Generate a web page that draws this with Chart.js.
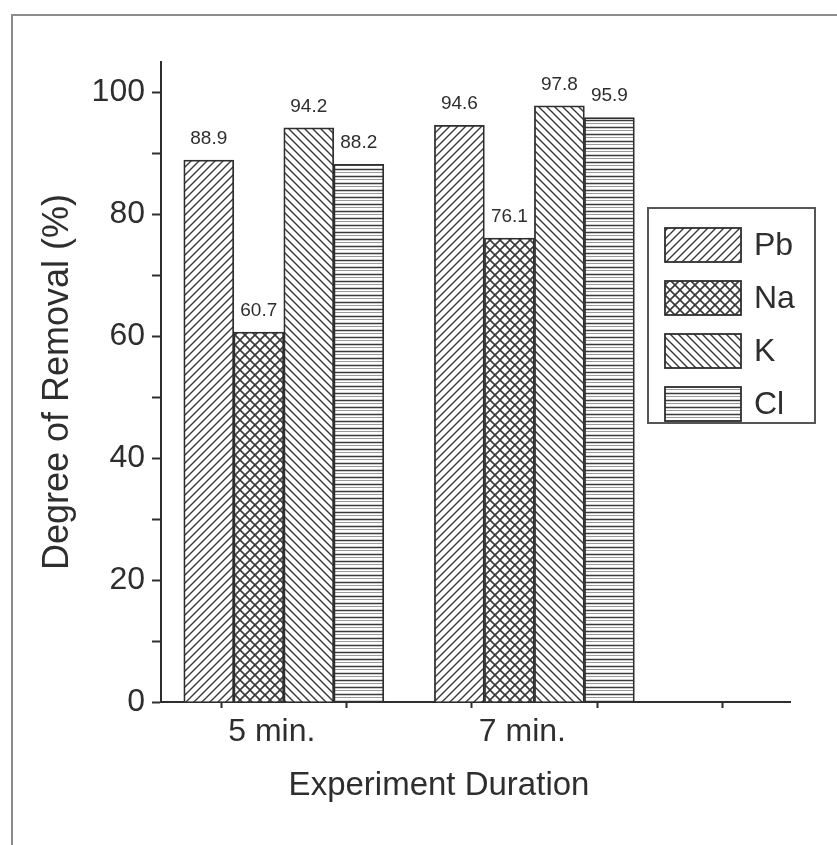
<!DOCTYPE html>
<html>
<head>
<meta charset="utf-8">
<script src="https://cdn.jsdelivr.net/npm/chart.js@4.4.1/dist/chart.umd.min.js"></script>
<style>
  html, body { margin: 0; padding: 0; background: #fff; }
  #wrap { position: relative; width: 837px; height: 845px; overflow: hidden; }
  #frame { position: absolute; left: 11px; top: 14px; width: 900px; height: 900px; border: 2px solid #8c8c8c; box-sizing: border-box; }
  canvas { position: absolute; left: 0; top: 0; }
</style>
</head>
<body>
<div id="wrap">
  <div id="frame"></div>
  <canvas id="removalChart" width="837" height="845"></canvas>
</div>
<script>
// data
const durations = ['5 min.', '7 min.'];
const durationPos = [1, 2];
const elements = ['Pb', 'Na', 'K', 'Cl'];
const pbValues = [88.9, 94.6];
const naValues = [60.7, 76.1];
const kValues = [94.2, 97.8];
const clValues = [88.2, 95.9];
const yTicks = [0, 10, 20, 30, 40, 50, 60, 70, 80, 90, 100];
const xTicks = [0.75, 1, 1.25, 1.75, 2, 2.25, 2.75];
const xTitle = 'Experiment Duration';
const yTitle = 'Degree of Removal (%)';

const FONT = '"Liberation Sans", Arial, sans-serif';
const INK = '#2e2e2e';

// hatch fills, like the origin plot
function makePattern(kind) {
	const s = kind === 'cross' ? 10 : (kind === 'horiz' ? 7 : 8);
	const c = document.createElement('canvas');
	c.width = s; c.height = s;
	const g = c.getContext('2d');
	g.fillStyle = '#fff';
	g.fillRect(0, 0, s, s);
	g.strokeStyle = '#3a3a3a';
	g.lineWidth = 1.4;

	const fwd = () => {
		g.beginPath();
		g.moveTo(-1, s + 1); g.lineTo(s + 1, -1);
		g.moveTo(-1, 1); g.lineTo(1, -1);
		g.moveTo(s - 1, s + 1); g.lineTo(s + 1, s - 1);
		g.stroke();
	};
	const back = () => {
		g.beginPath();
		g.moveTo(-1, -1); g.lineTo(s + 1, s + 1);
		g.moveTo(s - 1, -1); g.lineTo(s + 1, 1);
		g.moveTo(-1, s - 1); g.lineTo(1, s + 1);
		g.stroke();
	};

	if (kind === 'fwd') fwd();
	if (kind === 'back') back();
	if (kind === 'cross') {
		g.lineWidth = 1.6;
		fwd();
		back();
	}
	if (kind === 'horiz') {
		g.lineWidth = 1.5;
		g.beginPath(); g.moveTo(0, 1.5); g.lineTo(s, 1.5); g.stroke();
		g.strokeStyle = '#9a9a9a';
		g.lineWidth = 1;
		g.beginPath(); g.moveTo(0, 4.5); g.lineTo(s, 4.5); g.stroke();
	}
	return g.createPattern(c, 'repeat');
}

const patterns = {
	Pb: makePattern('fwd'),
	Na: makePattern('cross'),
	K: makePattern('back'),
	Cl: makePattern('horiz'),
};
const seriesValues = [pbValues, naValues, kValues, clValues];

const datasets = elements.map((el, i) => ({
	label: el,
	data: durationPos.map((x, j) => ({ x: x, y: seriesValues[i][j] })),
	backgroundColor: patterns[el],
	borderColor: INK,
	borderWidth: 1.8,
	barThickness: 50,
}));

// value above each bar
const valueLabels = {
	id: 'valueLabels',
	afterDatasetsDraw(chart) {
		const ctx = chart.ctx;
		ctx.save();
		ctx.font = '19px ' + FONT;
		ctx.fillStyle = INK;
		ctx.textAlign = 'center';
		ctx.textBaseline = 'alphabetic';
		chart.data.datasets.forEach((ds, i) => {
			chart.getDatasetMeta(i).data.forEach((bar, j) => {
				ctx.fillText(ds.data[j].y.toFixed(1), bar.x, bar.y - 16);
			});
		});
		ctx.restore();
	}
};

// boxed legend sitting inside the plot
const boxLegend = {
	id: 'boxLegend',
	afterDraw(chart) {
		const { ctx, chartArea } = chart;
		const left = chartArea.right - 142;
		const top = 208;
		ctx.save();
		ctx.fillStyle = '#fff';
		ctx.fillRect(left, top, 167, 215);
		ctx.strokeStyle = '#555';
		ctx.lineWidth = 2;
		ctx.strokeRect(left, top, 167, 215);
		chart.data.datasets.forEach((ds, i) => {
			const y = top + 20 + i * 53;
			ctx.fillStyle = ds.backgroundColor;
			ctx.fillRect(left + 17, y, 76, 34);
			ctx.strokeStyle = ds.borderColor;
			ctx.lineWidth = 1.8;
			ctx.strokeRect(left + 17, y, 76, 34);
			ctx.fillStyle = INK;
			ctx.font = '32px ' + FONT;
			ctx.textAlign = 'left';
			ctx.textBaseline = 'middle';
			ctx.fillText(ds.label, left + 106, y + 18);
		});
		ctx.restore();
	}
};

// x title sits a bit left of centre in the original
const xTitleDraw = {
	id: 'xTitleDraw',
	afterDraw(chart) {
		const { ctx, chartArea } = chart;
		ctx.save();
		ctx.font = '33px ' + FONT;
		ctx.fillStyle = INK;
		ctx.textAlign = 'center';
		ctx.textBaseline = 'alphabetic';
		ctx.fillText(xTitle, chartArea.left + 0.442 * (chartArea.right - chartArea.left), 795);
		ctx.restore();
	}
};

Chart.defaults.font.family = FONT;
Chart.defaults.color = INK;

const canvasElement = document.getElementById('removalChart');

const config = {
	type: 'bar',
	data: { datasets: datasets },
	options: {
		responsive: false,
		animation: false,
		layout: { padding: { left: 0, top: 62, right: 47, bottom: 0 } },
		plugins: {
			legend: { display: false },
			tooltip: { enabled: false },
		},
		scales: {
			x: {
				type: 'linear',
				min: 0.51,
				max: 3.02,
				offset: false,
				afterBuildTicks: (scale) => { scale.ticks = xTicks.map(v => ({ value: v })); },
				afterFit: (scale) => { scale.height = 143; },
				grid: {
					drawOnChartArea: false,
					offset: false,
					tickLength: 6,
					tickWidth: 2,
					tickColor: (c) => durationPos.includes(c.tick.value) ? 'rgba(0,0,0,0)' : INK,
				},
				border: { color: INK, width: 2 },
				ticks: {
					autoSkip: false,
					maxRotation: 0,
					padding: 5,
					labelOffset: -12,
					color: INK,
					font: { size: 32 },
					callback: (v) => {
						const i = durationPos.indexOf(v);
						return i >= 0 ? durations[i] : '';
					},
				},
			},
			y: {
				min: 0,
				max: 105,
				afterBuildTicks: (scale) => { scale.ticks = yTicks.map(v => ({ value: v })); },
				afterFit: (scale) => { scale.width = 161; },
				grid: {
					drawOnChartArea: false,
					tickLength: 9,
					tickWidth: 2,
					tickColor: INK,
				},
				border: { color: INK, width: 2 },
				ticks: {
					padding: 7,
					color: INK,
					font: { size: 32 },
					callback: (v) => v % 20 === 0 ? v : '',
				},
				title: {
					display: true,
					text: yTitle,
					color: INK,
					font: { size: 36 },
					padding: { top: 36 },
				},
			},
		},
	},
	plugins: [valueLabels, boxLegend, xTitleDraw],
};

const removalChart = new Chart(canvasElement, config);
</script>
</body>
</html>
